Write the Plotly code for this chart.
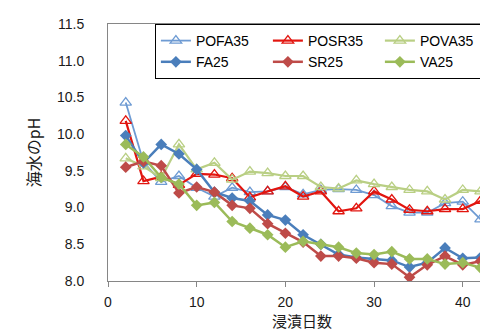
import plotly.graph_objects as go

days = [2, 4, 6, 8, 10, 12, 14, 16, 18, 20, 22, 24, 26, 28, 30, 32, 34, 36, 38, 40, 42, 44]

POFA35 = [10.43, 9.62, 9.35, 9.43, 9.27, 9.15, 9.27, 9.21, 9.22, 9.28, 9.18, 9.24, 9.25, 9.24, 9.17, 9.02, 8.93, 8.93, 9.06, 9.08, 8.84, 9.04]
POSR35 = [10.18, 9.36, 9.42, 9.31, 9.46, 9.45, 9.40, 9.14, 9.22, 9.29, 9.15, 9.22, 8.95, 8.99, 9.22, 9.11, 8.97, 8.95, 8.98, 8.98, 9.09, 9.09]
POVA35 = [9.67, 9.56, 9.40, 9.86, 9.52, 9.61, 9.38, 9.49, 9.47, 9.43, 9.43, 9.28, 9.26, 9.37, 9.32, 9.28, 9.24, 9.22, 9.11, 9.24, 9.22, 9.18]
FA25 = [9.98, 9.61, 9.86, 9.73, 9.52, 9.21, 9.13, 9.09, 8.90, 8.83, 8.63, 8.50, 8.36, 8.32, 8.30, 8.28, 8.19, 8.25, 8.45, 8.31, 8.32, 8.32]
SR25 = [9.55, 9.63, 9.57, 9.20, 9.28, 9.21, 9.03, 8.99, 8.78, 8.65, 8.53, 8.34, 8.34, 8.31, 8.25, 8.23, 8.05, 8.22, 8.34, 8.22, 8.27, 8.23]
VA25 = [9.86, 9.69, 9.41, 9.32, 9.03, 9.07, 8.81, 8.72, 8.63, 8.46, 8.54, 8.50, 8.46, 8.38, 8.36, 8.40, 8.30, 8.30, 8.23, 8.25, 8.18, 8.32]

yticks = [8.0, 8.5, 9.0, 9.5, 10.0, 10.5, 11.0, 11.5]
xticks = [0, 10, 20, 30, 40]

series = [
    ("POFA35", POFA35, "#6E9BD3", "triangle-up-open", 1.8),
    ("POSR35", POSR35, "#E2150F", "triangle-up-open", 2.2),
    ("POVA35", POVA35, "#B9CF84", "triangle-up-open", 2.2),
    ("FA25", FA25, "#4A7EBB", "diamond", 2.5),
    ("SR25", SR25, "#BE4B48", "diamond", 2.5),
    ("VA25", VA25, "#9BBB59", "diamond", 2.5),
]

FONT = "Liberation Sans, Arial, Noto Sans CJK JP, sans-serif"

fig = go.Figure()
for name, vals, color, sym, lw in series:
    is_open = "open" in sym
    fig.add_trace(go.Scatter(
        x=days, y=vals, name=name, mode="lines+markers",
        line=dict(color=color, width=lw),
        marker=dict(symbol=sym, size=10 if is_open else 9, color=color,
                    line=dict(color=color, width=1.3 if is_open else 0)),
    ))

fig.update_layout(
    width=488, height=333,
    margin=dict(l=100, r=0, t=16, b=60),
    paper_bgcolor="white", plot_bgcolor="white",
    font=dict(family=FONT, size=14, color="#1a1a1a"),
    showlegend=True,
    legend=dict(
        orientation="h", x=0.992, y=1.0, xanchor="right", yanchor="top",
        bgcolor="white", bordercolor="#000000", borderwidth=1,
        font=dict(family=FONT, size=14, color="#000000"),
        entrywidth=67, entrywidthmode="pixels",
        itemwidth=30, tracegroupgap=0,
    ),
    xaxis=dict(
        range=[0, 43.75], tickvals=xticks, ticktext=[str(t) for t in xticks],
        showgrid=False, zeroline=False,
        showline=True, linecolor="#868686", linewidth=1, mirror=True,
        ticks="outside", ticklen=5, tickcolor="#868686",
        ticklabelstandoff=3,
        title=dict(text="浸漬日数", font=dict(family="Noto Sans CJK JP, sans-serif", size=15), standoff=0),
    ),
    yaxis=dict(
        range=[8.0, 11.5], tickvals=yticks, ticktext=[f"{t:.1f}" for t in yticks],
        showgrid=False, zeroline=False,
        showline=True, linecolor="#868686", linewidth=1,
        ticks="outside", ticklen=0,
        ticklabelstandoff=20,
        title=dict(text="海水のpH", font=dict(family="Noto Sans CJK JP, sans-serif", size=16), standoff=12),
    ),
)

fig.write_html("out.html")
